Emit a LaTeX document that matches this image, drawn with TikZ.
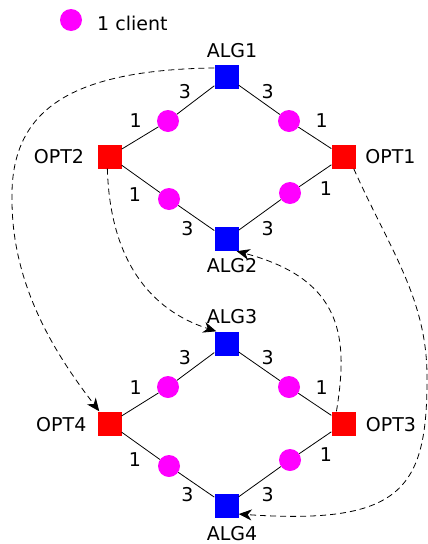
\documentclass[tikz,border=0pt]{standalone}
\usepackage{fontspec}
\setmainfont{DejaVu Sans}
\usetikzlibrary{arrows.meta}
\definecolor{pmag}{RGB}{255,0,255}
\definecolor{pblue}{RGB}{0,0,255}
\definecolor{pred}{RGB}{255,0,0}
\begin{document}
\begin{tikzpicture}[x=1pt,y=-1pt,
  sq/.style={rectangle,minimum size=24pt,inner sep=0pt,draw=none},
  algbox/.style={sq,fill=pblue},
  optbox/.style={sq,fill=pred},
  cl/.style={circle,fill=pmag,minimum size=22pt,inner sep=0pt,draw=none},
  lab/.style={inner sep=0pt,font=\fontsize{19}{22}\selectfont},
  edge/.style={draw=black,line width=0.8pt},
  darr/.style={draw=black,line width=0.8pt,dash pattern=on 6pt off 4pt,
    -{Stealth[length=13pt,width=11pt,inset=4pt]}}]
\useasboundingbox (0,0) rectangle (428,544);
% legend
\node[cl] (leg) at (71,20) {};
\node[lab,anchor=base west] (legt) at (97,30.7) {1 client};
% top diamond
\node[algbox] (alg1) at (226.5,76.5) {};
\node[optbox] (opt2) at (109.5,156.5) {};
\node[optbox] (opt1) at (343.5,156.5) {};
\node[algbox] (alg2) at (226.5,239) {};
\node[cl] (c1) at (168,121) {};
\node[cl] (c2) at (289,121) {};
\node[cl] (c3) at (169,199) {};
\node[cl] (c4) at (290,193) {};
% bottom diamond
\node[algbox] (alg3) at (226.5,343.5) {};
\node[optbox] (opt4) at (109.5,423.5) {};
\node[optbox] (opt3) at (343.5,423.5) {};
\node[algbox] (alg4) at (226.5,505.5) {};
\node[cl] (c5) at (168,387) {};
\node[cl] (c6) at (289,387) {};
\node[cl] (c7) at (169,466) {};
\node[cl] (c8) at (290,460) {};
% edges
\draw[edge] (alg1) -- (c1) -- (opt2);
\draw[edge] (alg1) -- (c2) -- (opt1);
\draw[edge] (opt2) -- (c3) -- (alg2);
\draw[edge] (opt1) -- (c4) -- (alg2);
\draw[edge] (alg3) -- (c5) -- (opt4);
\draw[edge] (alg3) -- (c6) -- (opt3);
\draw[edge] (opt4) -- (c7) -- (alg4);
\draw[edge] (opt3) -- (c8) -- (alg4);
% node labels
\node[lab] (t1) at (232,50.3) {ALG1};
\node[lab] (t2) at (59,157) {OPT2};
\node[lab] (t3) at (390.5,157) {OPT1};
\node[lab] (t4) at (232,266) {ALG2};
\node[lab] (t5) at (232,317) {ALG3};
\node[lab] (t6) at (61.3,425) {OPT4};
\node[lab] (t7) at (391,425) {OPT3};
\node[lab] (t8) at (232,534) {ALG4};
% edge weights top
\node[lab] (w1) at (185,91.7) {3};
\node[lab] (w2) at (267.7,91.7) {3};
\node[lab] (w3) at (135.7,120.7) {1};
\node[lab] (w4) at (321.7,120.7) {1};
\node[lab] (w5) at (135,194.3) {1};
\node[lab] (w6) at (187.3,228.3) {3};
\node[lab] (w7) at (326,189) {1};
\node[lab] (w8) at (267.7,228.3) {3};
% edge weights bottom
\node[lab] (w9) at (185,357.3) {3};
\node[lab] (w10) at (267.7,357.3) {3};
\node[lab] (w11) at (135.7,387.3) {1};
\node[lab] (w12) at (321.7,387.3) {1};
\node[lab] (w13) at (135,460) {1};
\node[lab] (w14) at (187.3,495) {3};
\node[lab] (w15) at (326,455) {1};
\node[lab] (w16) at (267.7,495) {3};
% dashed arrows
\draw[darr] (alg1.145) .. controls (70,70) and (10,110) .. (12,200)
   .. controls (12,290) and (60,360) .. (opt4.130);
\draw[darr] (opt2.260) .. controls (110,260) and (150,310) .. (alg3.130);
\draw[darr] (opt3.120) .. controls (348,340) and (345,280) .. (alg2.-50);
\draw[darr] (opt1.-50) .. controls (390,250) and (428,300) .. (427,380)
   .. controls (427,490) and (400,525) .. (alg4.-35);
\end{tikzpicture}
\end{document}
